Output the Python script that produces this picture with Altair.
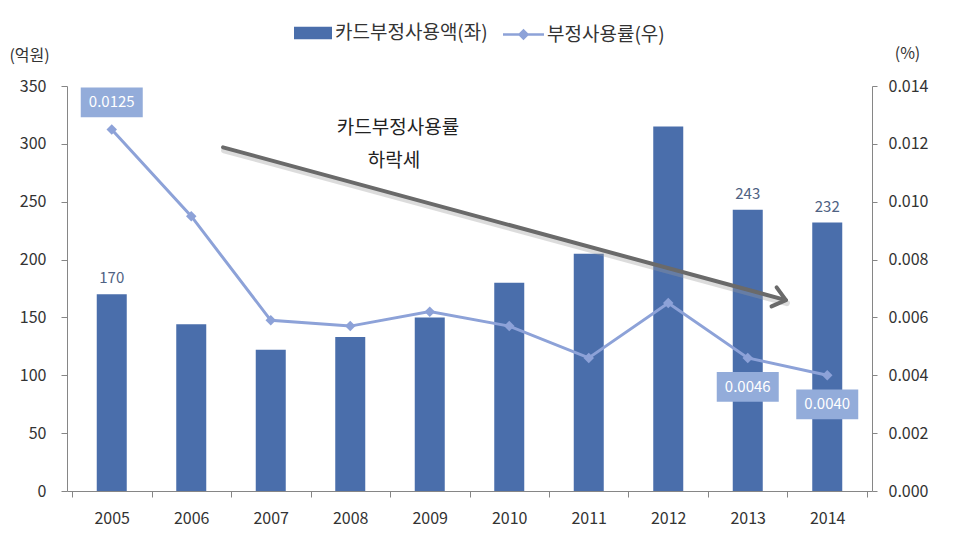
import altair as alt
import pandas as pd

years = [2005, 2006, 2007, 2008, 2009, 2010, 2011, 2012, 2013, 2014]
amounts = [170, 144, 122, 133, 150, 180, 205, 315, 243, 232]
rates = [0.0125, 0.0095, 0.0059, 0.0057, 0.0062, 0.0057, 0.0046, 0.0065, 0.0046, 0.0040]
labeled_years = [2005, 2013, 2014]
bar_name = "카드부정사용액(좌)"
line_name = "부정사용률(우)"

arrow_x = [2006.4, 2013.48]
arrow_y = [297, 165]
note_lines = ["카드부정사용률", "하락세"]
note_x = [2008.6, 2008.55]
note_y = [314, 285]

FONT = "Noto Sans CJK KR"
BAR_COLOR = "#4a6eab"
LINE_COLOR = "#8da2d8"
BOX_COLOR = "#93acda"
AXIS_COLOR = "#868686"
TEXT_COLOR = "#333333"
ARROW_COLOR = "#6a6a6a"

df = pd.DataFrame({"year": years, "amount": amounts, "rate": rates})
df["labeled"] = df["year"].isin(labeled_years)
df["amount_label"] = df["amount"].astype(str)
df["rate_label"] = df["rate"].map(lambda v: f"{v:.4f}")
df["s1"] = bar_name
df["s2"] = line_name

arrow_df = pd.DataFrame({"x": [arrow_x[0]], "x2": [arrow_x[1]], "y": [arrow_y[0]], "y2": [arrow_y[1]]})
head_df = pd.DataFrame({"x": [arrow_x[1]], "y": [arrow_y[1]]})
note_df = pd.DataFrame({"text": note_lines, "x": note_x, "y": note_y})

xscale = alt.Scale(domain=[2004.5, 2014.5], nice=False, zero=False)
yleft = alt.Scale(domain=[0, 350], nice=False)
yright = alt.Scale(domain=[0, 0.014], nice=False)

x_bound_axis = alt.Axis(
    orient="bottom", values=[y + 0.5 for y in [2004] + years], labels=False,
    ticks=True, tickSize=6, domain=True, grid=False, title=None,
    domainColor=AXIS_COLOR, tickColor=AXIS_COLOR)
x_label_axis = alt.Axis(
    orient="bottom", values=years, format="d", ticks=False, domain=False,
    grid=False, title=None, labelFontSize=16, labelColor=TEXT_COLOR, labelFont=FONT,
    labelPadding=19)
yl_axis = alt.Axis(
    orient="left", values=list(range(0, 351, 50)), grid=False,
    title="(억원)", titleAngle=0, titleX=-38, titleY=-31,
    titleAlign="center", titleBaseline="middle", titleFontWeight="normal",
    titleFontSize=16, titleColor=TEXT_COLOR, titleFont=FONT,
    labelFontSize=16, labelColor=TEXT_COLOR, labelFont=FONT, labelPadding=15,
    tickSize=6, domainColor=AXIS_COLOR, tickColor=AXIS_COLOR)
yr_axis = alt.Axis(
    orient="right", values=[0, 0.002, 0.004, 0.006, 0.008, 0.010, 0.012, 0.014],
    format=".3f", grid=False,
    title="(%)", titleAngle=0, titleX=35, titleY=-33,
    titleAlign="center", titleBaseline="middle", titleFontWeight="normal",
    titleFontSize=16, titleColor=TEXT_COLOR, titleFont=FONT,
    labelFontSize=16, labelColor=TEXT_COLOR, labelFont=FONT, labelPadding=11,
    tickSize=5, domainColor=AXIS_COLOR, tickColor=AXIS_COLOR)

XL = alt.X("x:Q", scale=xscale, axis=x_bound_axis)
YL = alt.Y("y:Q", scale=yleft, axis=yl_axis)

base = alt.Chart(df)

bars = base.mark_bar(size=30, color=BAR_COLOR).encode(
    x=alt.X("year:Q", scale=xscale, axis=x_bound_axis),
    y=alt.Y("amount:Q", scale=yleft, axis=yl_axis),
    color=alt.Color("s1:N", scale=alt.Scale(domain=[bar_name], range=[BAR_COLOR]),
                    legend=alt.Legend(title=None, orient="none", legendX=226, legendY=-73,
                                      symbolType="M-1,-0.33H1V0.33H-1Z", symbolSize=1444,
                                      symbolOpacity=1, labelFontSize=19, labelFont=FONT,
                                      labelColor=TEXT_COLOR, labelOffset=2, padding=0)),
)

bar_labels = base.mark_text(baseline="bottom", dy=-8, fontSize=15, font=FONT, color="#4f6283").encode(
    x=alt.X("year:Q", scale=xscale, axis=x_bound_axis),
    y=alt.Y("amount:Q", scale=yleft, axis=yl_axis),
    text="amount_label:N",
).transform_filter("datum.labeled")

arrow_shadow = alt.Chart(arrow_df).mark_rule(
    color="#9a9a9a", strokeWidth=6, strokeCap="round", opacity=0.35,
    yOffset=3, y2Offset=3, xOffset=1, x2Offset=1
).encode(x=XL, x2="x2:Q", y=YL, y2="y2:Q")
arrow = alt.Chart(arrow_df).mark_rule(color=ARROW_COLOR, strokeWidth=4, strokeCap="round").encode(
    x=XL, x2="x2:Q", y=YL, y2="y2:Q",
)
arrow_head = alt.Chart(head_df).mark_point(
    shape="M-1,-0.8L0,0L-1,0.8", angle=15, size=600, filled=False,
    color=ARROW_COLOR, strokeWidth=4, opacity=1, strokeCap="round", strokeJoin="round"
).encode(x=XL, y=YL)
notes = alt.Chart(note_df).mark_text(fontSize=19, font=FONT, color="#222222").encode(
    x=XL, y=YL, text="text:N",
)

left_layer = alt.layer(bars, bar_labels, arrow_shadow, arrow, arrow_head, notes)

XR = alt.X("year:Q", scale=xscale, axis=x_label_axis)
YR = alt.Y("rate:Q", scale=yright, axis=yr_axis)

line = base.mark_line(color=LINE_COLOR, strokeWidth=3).encode(x=XR, y=YR)
points = base.mark_point(shape="diamond", filled=True, size=110, opacity=1).encode(
    x=XR, y=YR,
    color=alt.Color("s2:N", scale=alt.Scale(domain=[line_name], range=[LINE_COLOR]),
                    legend=alt.Legend(title=None, orient="none", legendX=435, legendY=-73,
                                      symbolType="M-1,-0.06H1V0.06H-1Z M0,-0.28L0.28,0L0,0.28L-0.28,0Z",
                                      symbolSize=1681, symbolOpacity=1, labelFontSize=19,
                                      labelFont=FONT, labelColor=TEXT_COLOR, labelOffset=2, padding=0)),
)

box_shape = "M-1,-0.48H1V0.48H-1Z"
box_above = base.mark_point(shape=box_shape, filled=True, size=3844, color=BOX_COLOR,
                            opacity=1, yOffset=-27).encode(x=XR, y=YR).transform_filter("datum.year == 2005")
text_above = base.mark_text(dy=-27, fontSize=15, font=FONT, color="white").encode(
    x=XR, y=YR, text="rate_label:N",
).transform_filter("datum.year == 2005")
box_below = base.mark_point(shape=box_shape, filled=True, size=3844, color=BOX_COLOR,
                            opacity=1, yOffset=29).encode(x=XR, y=YR).transform_filter(
    "datum.labeled && datum.year != 2005")
text_below = base.mark_text(dy=29, fontSize=15, font=FONT, color="white").encode(
    x=XR, y=YR, text="rate_label:N",
).transform_filter("datum.labeled && datum.year != 2005")

right_layer = alt.layer(line, points, box_above, text_above, box_below, text_below)

chart = alt.layer(left_layer, right_layer).resolve_scale(
    y="independent", color="independent"
).resolve_axis(x="independent").properties(
    width=805, height=405,
    background="white",
    autosize=alt.AutoSizeParams(type="none"),
    padding={"left": 67, "top": 86, "right": 91, "bottom": 55},
).configure_view(stroke=None)

chart.save("out.html", embed_options={"renderer": "svg", "actions": False})
